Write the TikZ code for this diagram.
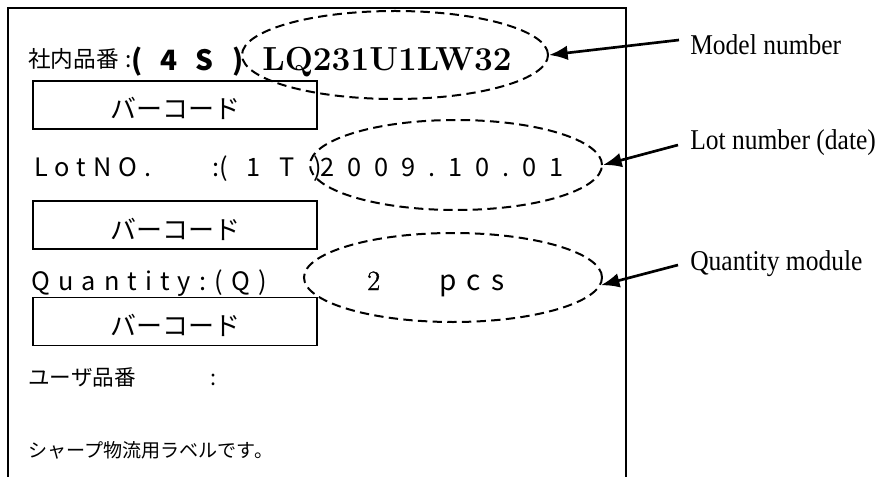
\documentclass[tikz,border=0pt]{standalone}
\usepackage{fontspec}
\usetikzlibrary{arrows.meta,shapes.geometric}
\newfontfamily\jp{Noto Sans CJK JP}
\newfontfamily\labfont{Liberation Serif}
\newfontfamily\numfont[FakeBold=1.2]{Latin Modern Roman}
\newcommand\setfs[1]{\fontsize{#1}{#1}\selectfont}
\begin{document}
\begin{tikzpicture}[x=0.75pt,y=-0.75pt,
  frame/.style={line width=1pt},
  bcbox/.style={draw, line width=1.2pt, minimum width=213pt, minimum height=36pt,
    inner sep=0pt, text height=21pt, text depth=0pt, font=\jp\setfs{19.5pt}},
  oval/.style={draw, ellipse, dash pattern=on 7pt off 4pt, line width=1.5pt, inner sep=0pt},
  arr/.style={line width=2pt, -{Latex[length=14pt,width=11pt]}},
  lab/.style={anchor=base west, inner sep=0pt, font=\labfont\setfs{21.5pt}},
  txt/.style={anchor=base west, inner sep=0pt},
  trk/.style 2 args={txt, font=\jp\setfs{#1}\addfontfeature{LetterSpace=#2}},
  trkb/.style 2 args={txt, font=\jp\bfseries\setfs{#1}\addfontfeature{LetterSpace=#2}}]
\fill[white] (0,0) rectangle (880,477);
\useasboundingbox (0,0) rectangle (880,477);
% label frame
\draw[frame] (8,477) -- (8,8) -- (626,8) -- (626,477);
% row 1
\node[txt, font=\jp\setfs{17pt}] (pn) at (28,68) {社内品番\hspace{5pt}:};
\node[trkb={21pt}{65}] (ps) at (131,71) {(4S)};
\node[txt, font=\bfseries\setfs{25pt}] (mn) at (262,71) {LQ231U1LW32};
\node[bcbox] (bc1) at (175,105) {バーコード};
% row 2
\node[trk={19pt}{28}] (lotA) at (34,177) {LotNO.};
\node[txt, font=\jp\setfs{19pt}] (lotB) at (212,177) {:};
\node[trk={19pt}{74}] (lotC) at (219,177) {(1T)};
\node[trk={19pt}{51}] (lotD) at (320,177) {2009.10.01};
\node[bcbox] (bc2) at (175,225) {バーコード};
% row 3
\node[trk={19pt}{32}] (qty) at (31,290) {Quantity:(Q)};
\node[txt, font=\numfont\setfs{21pt}] (qn) at (367,290) {2};
\node[trk={21pt}{36}] (pcs) at (439,290) {pcs};
\node[bcbox] (bc3) at (175,321.5) {バーコード};
% rows 4,5
\node[txt, font=\jp\setfs{16.2pt}] (un) at (28,385) {ユーザ品番\hspace{56pt}:};
\node[txt, font=\jp\setfs{14.3pt}] (note) at (28,457) {シャープ物流用ラベルです。};
% ellipses
\node[oval, minimum width=229.5pt, minimum height=66pt] (e1) at (395,55) {};
\node[oval, minimum width=219pt, minimum height=67.5pt] (e2) at (456,165) {};
\node[oval, minimum width=223.5pt, minimum height=66.75pt] (e3) at (453,277.5) {};
% callout labels
\node[lab] (l1) at (690,55) {\scalebox{0.89}[1]{Model number}};
\node[lab] (l2) at (690,150) {\scalebox{0.89}[1]{Lot number (date)}};
\node[lab] (l3) at (690,270) {\scalebox{0.89}[1]{Quantity module}};
\coordinate (t1) at (679,40);
\coordinate (t2) at (678,145);
\coordinate (t3) at (678,265);
\draw[arr] (t1) -- (e1.east);
\draw[arr] (t2) -- (e2.east);
\draw[arr] (t3) -- (e3.-3);
\end{tikzpicture}
\end{document}
